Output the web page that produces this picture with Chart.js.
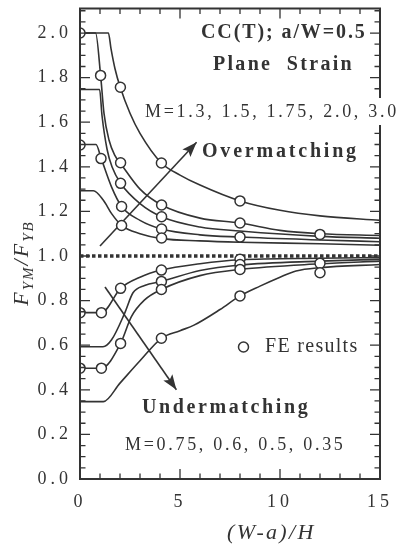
<!DOCTYPE html>
<html>
<head>
<meta charset="utf-8">
<script src="https://cdn.jsdelivr.net/npm/chart.js@4.4.1/dist/chart.umd.min.js"></script>
<style>
html, body { margin: 0; padding: 0; background: #fff; }
#wrap { width: 398px; height: 548px; }
</style>
</head>
<body>
<div id="wrap"><canvas id="c"></canvas></div>
<script>
// x ticks and y ticks
const xTicks = [0, 5, 10, 15];
const yTicks = [0, 0.2, 0.4, 0.6, 0.8, 1.0, 1.2, 1.4, 1.6, 1.8, 2.0];

// overmatching curves, M = 3.0, 2.0, 1.75, 1.5, 1.3
const m30X = [0, 1.42, 1.55, 1.75, 2.0, 2.5, 3, 4.07, 5, 6, 8, 10, 12, 15];
const m30Y = [2.0, 2.0, 1.93, 1.84, 1.76, 1.64, 1.55, 1.417, 1.363, 1.318, 1.247, 1.205, 1.18, 1.16];
const m20X = [0, 0.78, 1.03, 1.2, 1.45, 1.75, 2.03, 3, 4.08, 6, 8, 10, 12, 15];
const m20Y = [2.0, 2.0, 1.81, 1.64, 1.52, 1.45, 1.415, 1.30, 1.229, 1.17, 1.148, 1.115, 1.10, 1.092];
const m175X = [0, 0.98, 1.1, 1.35, 1.6, 2.03, 3, 4.08, 6, 8, 12, 15];
const m175Y = [1.747, 1.747, 1.63, 1.48, 1.40, 1.326, 1.235, 1.176, 1.13, 1.112, 1.088, 1.08];
const m15X = [0, 0.8, 1.05, 1.58, 2.08, 3, 4.08, 6, 8, 12, 15];
const m15Y = [1.5, 1.5, 1.44, 1.309, 1.222, 1.16, 1.121, 1.095, 1.085, 1.072, 1.064];
const m13X = [0, 0.67, 1.17, 1.58, 2.08, 3, 4.08, 6, 8, 12, 15];
const m13Y = [1.293, 1.293, 1.25, 1.19, 1.137, 1.10, 1.078, 1.068, 1.062, 1.055, 1.048];

// undermatching curves, M = 0.75, 0.6, 0.5, 0.35
const m075X = [0, 1.07, 2.03, 3, 4.07, 6, 8, 12, 15];
const m075Y = [0.746, 0.746, 0.855, 0.905, 0.937, 0.965, 0.983, 0.99, 0.993];
const m06X = [0, 1.15, 1.57, 2.23, 2.65, 3.23, 4.07, 6, 8, 12, 15];
const m06Y = [0.593, 0.593, 0.623, 0.743, 0.835, 0.868, 0.886, 0.935, 0.96, 0.977, 0.985];
const m05X = [0, 1.07, 2.03, 2.57, 3.23, 4.07, 6, 8, 12, 15];
const m05Y = [0.497, 0.497, 0.608, 0.728, 0.803, 0.85, 0.912, 0.94, 0.965, 0.977];
const m035X = [0, 1.17, 2, 3, 4.07, 5, 5.7, 7, 8, 9, 10, 10.8, 12, 15];
const m035Y = [0.347, 0.347, 0.43, 0.53, 0.631, 0.665, 0.69, 0.76, 0.821, 0.865, 0.905, 0.933, 0.948, 0.962];

// FE results
const feX = [0, 1.03, 2.02, 0, 1.05, 2.03, 2.03, 2.08, 2.08, 4.07, 4.08, 4.08, 4.08, 4.08, 8, 8, 8, 12,
             0, 1.07, 2.03, 4.07, 4.07, 4.07, 0, 1.07, 2.03, 4.07, 8, 8, 8, 8, 12, 12];
const feY = [2.0, 1.81, 1.757, 1.498, 1.437, 1.418, 1.326, 1.222, 1.137, 1.417, 1.229, 1.176, 1.121, 1.081, 1.247, 1.148, 1.085, 1.097,
             0.746, 0.746, 0.855, 0.937, 0.886, 0.85, 0.497, 0.497, 0.608, 0.631, 0.985, 0.962, 0.94, 0.821, 0.967, 0.925];

// reference line F_YM/F_YB = 1 and the two arrows
const refX = [0, 15];
const refY = [1, 1];
const overArrowX = [1.0, 5.83];
const overArrowY = [1.045, 1.51];
const underArrowX = [1.25, 4.82];
const underArrowY = [0.861, 0.40];

const ink = '#333';
const serif = '"Liberation Serif", "Times New Roman", serif';

function pts(xs, ys) {
    return xs.map((x, i) => ({ x: x, y: ys[i] }));
}

function curve(xs, ys) {
    return {
        data: pts(xs, ys),
        showLine: true,
        borderColor: ink,
        borderWidth: 1.6,
        pointRadius: 0,
        cubicInterpolationMode: 'monotone',
    };
}

function arrow(xs, ys) {
    return {
        data: pts(xs, ys),
        showLine: true,
        borderColor: ink,
        borderWidth: 1.6,
        pointRadius: 0,
        arrow: true,
    };
}

function txt(ctx, s, x, y, font, spacing, align) {
    ctx.save();
    ctx.font = font;
    ctx.letterSpacing = spacing + 'px';
    ctx.fillStyle = ink;
    ctx.textBaseline = 'middle';
    ctx.textAlign = align || 'left';
    ctx.fillText(s, x, y);
    ctx.restore();
}

// no extra room for edge labels, the frame sits where the picture has it
function noPad(s) {
    s.paddingTop = 0; s.paddingBottom = 0; s.paddingLeft = 0; s.paddingRight = 0;
}

// tick labels in the picture are spaced out
const spacing = {
    id: 'spacing',
    beforeUpdate(chart) { chart.ctx.letterSpacing = '4px'; },
    beforeDraw(chart) { chart.ctx.letterSpacing = '4px'; },
};

const frame = {
    id: 'frame',
    afterDatasetsDraw(chart) {
        const ctx = chart.ctx;
        const { left, right, top, bottom } = chart.chartArea;
        const xs = chart.scales.x, ys = chart.scales.y;

        // arrow heads
        chart.data.datasets.forEach((ds, i) => {
            if (!ds.arrow) return;
            const p = chart.getDatasetMeta(i).data;
            const a = p[p.length - 2], b = p[p.length - 1];
            const ang = Math.atan2(b.y - a.y, b.x - a.x);
            ctx.save();
            ctx.translate(b.x, b.y);
            ctx.rotate(ang);
            ctx.fillStyle = ink;
            ctx.beginPath();
            ctx.moveTo(0, 0);
            ctx.lineTo(-15, -5.5);
            ctx.lineTo(-12, 0);
            ctx.lineTo(-15, 5.5);
            ctx.closePath();
            ctx.fill();
            ctx.restore();
        });

        // inward ticks on all four sides
        ctx.save();
        ctx.strokeStyle = ink;
        ctx.lineWidth = 1.3;
        ctx.beginPath();
        for (let v = 0; v <= 15; v++) {
            const px = xs.getPixelForValue(v);
            const len = v % 5 === 0 ? 10 : 5.5;
            ctx.moveTo(px, bottom); ctx.lineTo(px, bottom - len);
            ctx.moveTo(px, top); ctx.lineTo(px, top + len);
        }
        for (let i = 0; i * 0.05 <= ys.max; i++) {
            const py = ys.getPixelForValue(i * 0.05);
            const len = i % 4 === 0 ? 10 : 5.5;
            ctx.moveTo(left, py); ctx.lineTo(left + len, py);
            ctx.moveTo(right, py); ctx.lineTo(right - len, py);
        }
        ctx.stroke();
        ctx.lineWidth = 2;
        ctx.strokeRect(left, top, right - left, bottom - top);
        ctx.restore();
    },
    afterDraw(chart) {
        const ctx = chart.ctx;
        const bold = 'bold 20px ' + serif;
        const norm = '18px ' + serif;

        txt(ctx, 'CC(T); a/W=0.5', 201, 33, bold, 1.9);
        txt(ctx, 'Plane  Strain', 213, 65, bold, 2.3);

        // this label sits on a white patch that cuts the right axis
        const mOver = 'M=1.3, 1.5, 1.75, 2.0, 3.0';
        ctx.save();
        ctx.font = norm;
        ctx.letterSpacing = '2.7px';
        const w = ctx.measureText(mOver).width;
        ctx.fillStyle = '#fff';
        ctx.fillRect(143, 98, w + 4, 27);
        ctx.restore();
        txt(ctx, mOver, 145, 112, norm, 2.7);

        txt(ctx, 'Overmatching', 202, 152, bold, 2.8);
        txt(ctx, 'Undermatching', 142, 408, bold, 2.6);
        txt(ctx, 'M=0.75, 0.6, 0.5, 0.35', 125, 445, norm, 2.7);

        // FE legend
        ctx.save();
        ctx.beginPath();
        ctx.arc(243.5, 347, 5, 0, Math.PI * 2);
        ctx.fillStyle = '#fff';
        ctx.fill();
        ctx.lineWidth = 1.5;
        ctx.strokeStyle = ink;
        ctx.stroke();
        ctx.restore();
        txt(ctx, 'FE results', 265, 347, '20px ' + serif, 1.3);

        // axis titles
        txt(ctx, '(W-a)/H', 227, 533, 'italic 22px ' + serif, 2.3);

        ctx.save();
        ctx.translate(20, 263);
        ctx.rotate(-Math.PI / 2);
        ctx.fillStyle = ink;
        ctx.textBaseline = 'alphabetic';
        ctx.letterSpacing = '2px';
        const parts = [['F', 22, 0], ['YM', 15, 5], ['/', 22, 0], ['F', 22, 0], ['YB', 15, 5]];
        let total = 0;
        parts.forEach(p => { ctx.font = 'italic ' + p[1] + 'px ' + serif; total += ctx.measureText(p[0]).width; });
        let x0 = -total / 2;
        parts.forEach(p => {
            ctx.font = 'italic ' + p[1] + 'px ' + serif;
            ctx.fillText(p[0], x0, 8 + p[2]);
            x0 += ctx.measureText(p[0]).width;
        });
        ctx.restore();
    },
};

new Chart(document.getElementById('c'), {
    type: 'scatter',
    data: {
        datasets: [
            {
                data: pts(feX, feY),
                pointRadius: 5,
                pointBackgroundColor: '#fff',
                pointBorderColor: ink,
                pointBorderWidth: 1.5,
                order: -1,
            },
            curve(m30X, m30Y),
            curve(m20X, m20Y),
            curve(m175X, m175Y),
            curve(m15X, m15Y),
            curve(m13X, m13Y),
            curve(m075X, m075Y),
            curve(m06X, m06Y),
            curve(m05X, m05Y),
            curve(m035X, m035Y),
            {
                data: pts(refX, refY),
                showLine: true,
                borderColor: ink,
                borderWidth: 3.5,
                borderDash: [3.5, 2.5],
                pointRadius: 0,
            },
            arrow(overArrowX, overArrowY),
            arrow(underArrowX, underArrowY),
        ],
    },
    options: {
        responsive: true,
        maintainAspectRatio: false,
        animation: false,
        layout: { padding: { left: 0, top: 8.5, right: 18, bottom: 0 } },
        plugins: { legend: { display: false }, tooltip: { enabled: false } },
        scales: {
            x: {
                type: 'linear',
                min: 0,
                max: 15,
                afterFit(s) { s.height = 69; noPad(s); },
                afterBuildTicks(s) { s.ticks = xTicks.map(v => ({ value: v })); },
                grid: { display: false, drawTicks: false },
                border: { display: false },
                ticks: {
                    padding: 12,
                    color: ink,
                    font: { family: serif, size: 18 },
                    callback: v => String(v),
                },
            },
            y: {
                type: 'linear',
                min: 0,
                max: 2.11,
                afterFit(s) { s.width = 80; noPad(s); },
                afterBuildTicks(s) { s.ticks = yTicks.map(v => ({ value: v })); },
                grid: { display: false, drawTicks: false },
                border: { display: false },
                ticks: {
                    padding: 8,
                    color: ink,
                    font: { family: serif, size: 18 },
                    callback: v => v.toFixed(1),
                },
            },
        },
    },
    plugins: [spacing, frame],
});
</script>
</body>
</html>
